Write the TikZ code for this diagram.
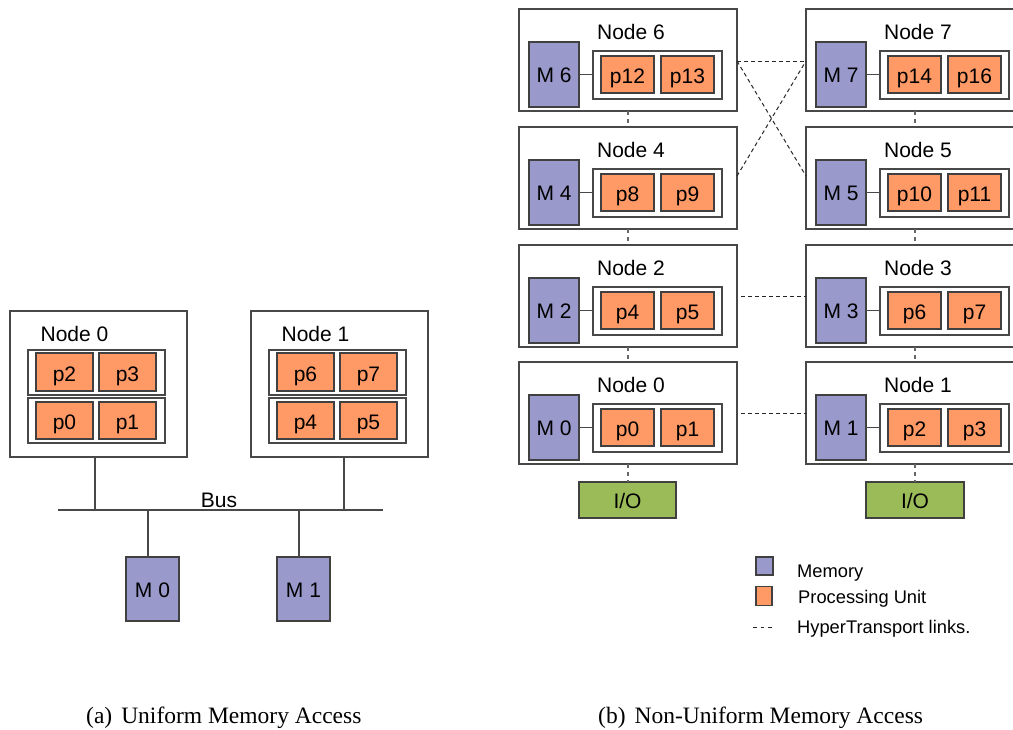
\documentclass[tikz,border=0pt]{standalone}
\usepackage{fontspec}
\setmainfont{Liberation Sans}
\newfontfamily\capfont{Liberation Serif}

\definecolor{memfill}{RGB}{153,153,204}
\definecolor{pufill}{RGB}{255,153,102}
\definecolor{iofill}{RGB}{155,187,89}
\definecolor{linegray}{RGB}{72,72,72}

\tikzset{
  box/.style={draw=linegray, line width=1.2pt, fill=white, inner sep=0pt, outer sep=0pt},
  mem/.style={draw=black!75, line width=1.1pt, fill=memfill, inner sep=0pt, outer sep=0pt,
    text height=16pt, text depth=0pt, font=\fontsize{21}{25}\selectfont},
  pu/.style={draw=black!75, line width=1.1pt, fill=pufill, inner sep=0pt, outer sep=0pt,
    text height=18.5pt, text depth=0pt, font=\fontsize{21}{25}\selectfont},
  io/.style={draw=black!75, line width=1.1pt, fill=iofill, inner sep=0pt, outer sep=0pt,
    text height=16pt, text depth=0pt, font=\fontsize{21}{25}\selectfont},
  title/.style={anchor=base, inner sep=0pt, font=\fontsize{21}{25}\selectfont},
  legtext/.style={anchor=base west, inner sep=0pt, font=\fontsize{18.3}{22}\selectfont},
  wire/.style={draw=linegray, line width=1.2pt},
  ht/.style={draw=black!85, line width=1pt, dash pattern=on 4pt off 3pt},
  vlink/.style={draw=black!60, line width=1.3pt, dash pattern=on 4pt off 4pt},
  caption/.style={anchor=base west, inner sep=0pt, font=\capfont\fontsize{23.5}{28}\selectfont},
}

% one NUMA node: name, left x, top y, title, memory label, two processing units
\newcommand\numanode[7]{%
  \node[box, minimum width=218pt, minimum height=102pt] (#1) at ({#2+109},{#3+51}) {};
  \node[title] (#1t) at ({#2+112},{#3+30}) {#4};
  \node[mem, minimum width=50pt, minimum height=65pt] (#1m) at ({#2+35},{#3+65.5}) {#5};
  \node[box, minimum width=129pt, minimum height=48pt] (#1c) at ({#2+138.5},{#3+66}) {};
  \node[pu, minimum width=53pt, minimum height=37pt] (#1a) at ({#2+108.5},{#3+65.5}) {#6};
  \node[pu, minimum width=53pt, minimum height=37pt] (#1b) at ({#2+168.5},{#3+65.5}) {#7};
  \draw[wire] (#1m.east) -- (#1m.east -| #1c.west);
}

% one UMA node: name, x offset, title, four processing units (top row, bottom row)
\newcommand\umanode[7]{%
  \node[box, minimum width=177pt, minimum height=146pt] (#1) at ({#2+98.5},384) {};
  \node[title] (#1t) at ({#2+74.5},341) {#3};
  \node[box, minimum width=137pt, minimum height=45pt] (#1r1) at ({#2+96.5},372.5) {};
  \node[box, minimum width=137pt, minimum height=45pt] (#1r0) at ({#2+96.5},420.5) {};
  \node[pu, minimum width=57pt, minimum height=38pt] (#1a) at ({#2+64.5},372) {#4};
  \node[pu, minimum width=57pt, minimum height=38pt] (#1b) at ({#2+127.5},372) {#5};
  \node[pu, minimum width=57pt, minimum height=37pt] (#1c) at ({#2+64.5},420.5) {#6};
  \node[pu, minimum width=57pt, minimum height=37pt] (#1d) at ({#2+127.5},420.5) {#7};
}

\begin{document}
\begin{tikzpicture}[x=1pt, y=-1pt]
\fill[white] (0,0) rectangle (1013,729);
\useasboundingbox (0,0) rectangle (1013,729);

% ---------- (a) uniform memory access ----------
\umanode{ua}{0}{Node 0}{p2}{p3}{p0}{p1}
\umanode{ub}{241}{Node 1}{p6}{p7}{p4}{p5}

\coordinate (busL) at (58,510);
\coordinate (busR) at (383,510);
\draw[wire] (busL) -- (busR);
\node[title] (bus) at (219,507) {Bus};

\node[mem, minimum width=53pt, minimum height=64pt] (um0) at (152.5,589) {M 0};
\node[mem, minimum width=53pt, minimum height=64pt] (um1) at (303.5,589) {M 1};

\draw[wire] ([xshift=-3.5pt]ua.south) -- ([xshift=-3.5pt]ua.south |- busL);
\draw[wire] ([xshift=4.5pt]ub.south) -- ([xshift=4.5pt]ub.south |- busL);
\draw[wire] ([xshift=-4.5pt]um0.north) -- ([xshift=-4.5pt]um0.north |- busL);
\draw[wire] ([xshift=-4.5pt]um1.north) -- ([xshift=-4.5pt]um1.north |- busL);

% ---------- (b) non-uniform memory access ----------
\numanode{n6}{519}{9}{Node 6}{M 6}{p12}{p13}
\numanode{n7}{806}{9}{Node 7}{M 7}{p14}{p16}
\numanode{n4}{519}{127}{Node 4}{M 4}{p8}{p9}
\numanode{n5}{806}{127}{Node 5}{M 5}{p10}{p11}
\numanode{n2}{519}{245}{Node 2}{M 2}{p4}{p5}
\numanode{n3}{806}{245}{Node 3}{M 3}{p6}{p7}
\numanode{n0}{519}{362}{Node 0}{M 0}{p0}{p1}
\numanode{n1}{806}{362}{Node 1}{M 1}{p2}{p3}

\node[io, minimum width=97pt, minimum height=36pt] (io0) at (627.5,500) {I/O};
\node[io, minimum width=98pt, minimum height=36pt] (io1) at (915,500) {I/O};

% vertical links inside each column
\foreach \a/\b in {n6/n4, n4/n2, n2/n0, n7/n5, n5/n3, n3/n1}
  \draw[vlink] (\a.south) -- (\b.north);
\draw[vlink] (n0.south) -- (n0.south |- io0.north);
\draw[vlink] (n1.south) -- (n1.south |- io1.north);

% HyperTransport links between the columns
\draw[ht] ([yshift=-52pt]n6.north east) -- ([yshift=-52pt]n7.north west);
\draw[ht] ([yshift=-52pt]n6.north east) -- ([yshift=-49pt]n5.north west);
\draw[ht] ([yshift=-49pt]n4.north east) -- ([yshift=-52pt]n7.north west);
\draw[ht] ([xshift=4pt,yshift=-51pt]n2.north east) -- ([yshift=-51pt]n3.north west);
\draw[ht] ([xshift=4pt,yshift=-51pt]n0.north east) -- ([yshift=-51pt]n1.north west);

% legend
\node[mem, minimum width=17pt, minimum height=18pt] (legm) at (764.5,566) {};
\node[pu, minimum width=16pt, minimum height=16pt] (legp) at (764,596) {};
\coordinate (legl) at (753,627);
\coordinate (legr) at (772,627);
\draw[draw=black!85, line width=1pt, dash pattern=on 3.5pt off 4pt] (legl) -- (legr);
\node[legtext] (legmt) at (797,577) {Memory};
\node[legtext] (legpt) at (798,603) {Processing Unit};
\node[legtext] (leght) at (797,633) {HyperTransport links.};

% sub-figure captions
\node[caption] (capa) at (86,723) {(a)\hspace{9pt}Uniform Memory Access};
\node[caption] (capb) at (598,723) {(b)\hspace{9pt}Non-Uniform Memory Access};
\end{tikzpicture}
\end{document}
